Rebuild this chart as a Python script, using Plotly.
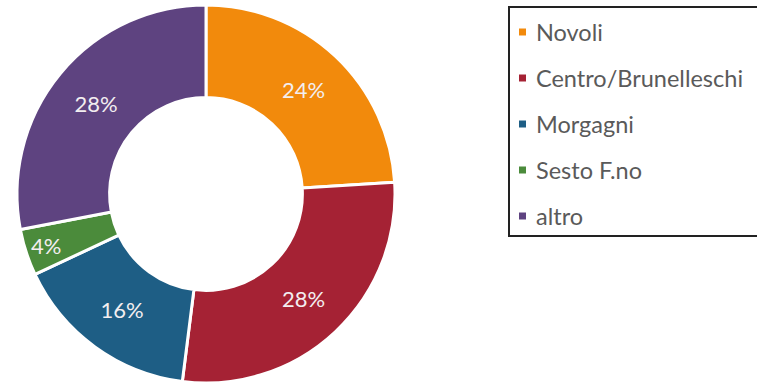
import plotly.graph_objects as go

# Share of respondents by area
labels = ["Novoli", "Centro/Brunelleschi", "Morgagni", "Sesto F.no", "altro"]
values = [24, 28, 16, 4, 28]
colors = ["#F28A0C", "#A52234", "#1E5E85", "#4B8B3B", "#5E4380"]

W, H = 757, 383

fig = go.Figure(
    go.Pie(
        labels=labels,
        values=values,
        hole=0.51,
        sort=False,
        direction="clockwise",
        rotation=0,
        marker=dict(colors=colors, line=dict(color="white", width=3)),
        texttemplate="%{value}%",
        textposition="inside",
        insidetextorientation="horizontal",
        textfont=dict(family="Lato", size=22, color="#F3EEF0"),
        domain=dict(x=[17 / W, 395 / W], y=[0.0, 378 / H]),
        showlegend=False,
        hoverinfo="label+percent",
    )
)

# Boxed legend on the right
shapes = [
    dict(
        type="rect", xref="paper", yref="paper",
        x0=509 / W, x1=758 / W, y0=1 - 236 / H, y1=1 - 7 / H,
        line=dict(color="#222222", width=2), fillcolor="white", layer="below",
    )
]
annotations = []
for i, (lab, col) in enumerate(zip(labels, colors)):
    yc = 32 + 46 * i
    shapes.append(
        dict(
            type="rect", xref="paper", yref="paper",
            x0=519 / W, x1=526 / W,
            y0=1 - (yc + 3.5) / H, y1=1 - (yc - 3.5) / H,
            line=dict(width=0), fillcolor=col,
        )
    )
    annotations.append(
        dict(
            text=lab, xref="paper", yref="paper",
            x=534 / W, y=1 - yc / H, xanchor="left", yanchor="middle",
            showarrow=False,
            font=dict(family="Lato", size=23.5, color="#5A5A5A"),
        )
    )

fig.update_layout(
    width=W, height=H,
    margin=dict(l=0, r=0, t=0, b=0),
    paper_bgcolor="white", plot_bgcolor="white",
    shapes=shapes, annotations=annotations,
)

fig.write_html("out.html")
